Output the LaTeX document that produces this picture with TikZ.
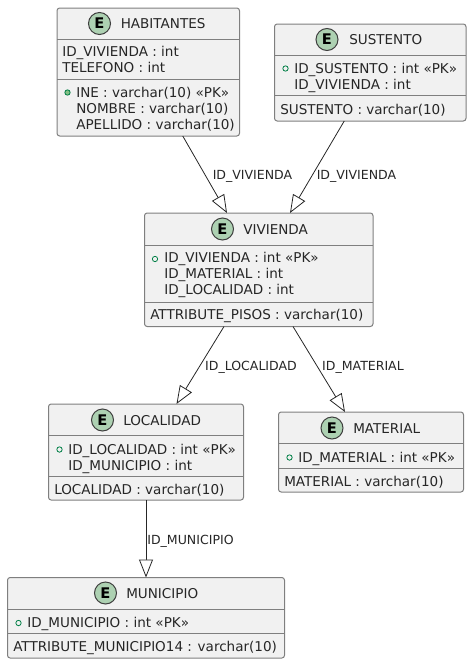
\documentclass[tikz,border=0pt]{standalone}
\usepackage{fontspec}
\setmainfont{DejaVu Sans}
\usetikzlibrary{arrows.meta,calc}
\definecolor{boxfill}{HTML}{F1F1F1}
\definecolor{boxline}{HTML}{7F7F7F}
\definecolor{iconfill}{HTML}{ADD1B2}
\definecolor{iconline}{HTML}{3F3F3F}
\definecolor{dotline}{HTML}{038048}
\definecolor{dotfill}{HTML}{84BE84}
\tikzset{
    entitybox/.style={draw=boxline, fill=boxfill, line width=0.75pt, rounded corners=2pt, inner sep=0pt, outer sep=0pt},
    entityicon/.style={circle, draw=iconline, fill=iconfill, line width=0.75pt, minimum size=16.5pt, inner sep=0pt, font=\fontsize{11pt}{12pt}\selectfont\bfseries},
    entitytitle/.style={anchor=base west, inner sep=0pt, font=\fontsize{10.15pt}{12pt}\selectfont, text=black!85},
    rowtext/.style={anchor=base west, inner sep=0pt, font=\fontsize{10.15pt}{12pt}\selectfont, text=black!85},
    edgelabel/.style={inner sep=0pt, font=\fontsize{9.4pt}{10pt}\selectfont, text=black!85},
    pkdot/.style={circle, draw=dotline, fill=boxfill, line width=0.6pt, minimum size=4pt, inner sep=0pt},
    fklink/.style={draw=black!85, line width=0.6pt, -{Triangle[open,fill=white,length=13.5pt,width=10.5pt]}}
}
\begin{document}
\begin{tikzpicture}[x=0.75pt,y=-0.75pt]
    \useasboundingbox (0,0) rectangle (473,664);
    % boxes
    \foreach \name/\l/\t/\r/\b/\da/\db in {
        habitantes/57/8/239.5/136/39.5/79.5,
        sustento/274.5/24/466/121/55.5/95.5,
        vivienda/144.5/213/373/326.5/245.5/302.5,
        localidad/48.5/404/243.5/500/435.5/476,
        material/278.5/412/463.5/492/443.5/468,
        municipio/7.5/577.5/284.5/658/609.5/633.5}
    {
        \node [entitybox, minimum width={(\r-\l)*0.75pt}, minimum height={(\b-\t)*0.75pt}] (\name) at ({(\l+\r)/2},{(\t+\b)/2}) {};
        \draw [boxline, line width=0.75pt] (\name.west |- 0,\da) -- (\name.east |- 0,\da);
        \draw [boxline, line width=0.75pt] (\name.west |- 0,\db) -- (\name.east |- 0,\db);
    }
    % headers
    \foreach \name/\ix/\iy/\tx/\ty/\txt in {
        habitantes/99.5/23.5/120.5/28.5/HABITANTES,
        sustento/327/39.5/349/44.5/SUSTENTO,
        vivienda/222.5/229/243/234/VIVIENDA,
        localidad/102.5/420/123/425/LOCALIDAD,
        material/332/428/353/433/MATERIAL,
        municipio/105.5/593/126/598/MUNICIPIO}
    {
        \node [entityicon] (\name-icon) at (\ix,\iy) {E};
        \node [entitytitle] (\name-title) at (\tx,\ty) {\txt};
    }
    % rows
    \foreach \name/\x/\y/\txt in {
        hab1/62/56.5/ID\_VIVIENDA : int,
        hab2/62/72.5/TELEFONO : int,
        hab3/76/97/INE : varchar(10) «PK»,
        hab4/76/113/NOMBRE : varchar(10),
        hab5/76/129/APELLIDO : varchar(10),
        sus1/294/73/ID\_SUSTENTO : int «PK»,
        sus2/294/89/ID\_VIVIENDA : int,
        sus3/280/114/SUSTENTO : varchar(10),
        viv1/164/262.5/ID\_VIVIENDA : int «PK»,
        viv2/164/278.5/ID\_MATERIAL : int,
        viv3/164/294.5/ID\_LOCALIDAD : int,
        viv4/150/319.5/ATTRIBUTE\_PISOS : varchar(10),
        loc1/68/454/ID\_LOCALIDAD : int «PK»,
        loc2/68/470/ID\_MUNICIPIO : int,
        loc3/54/494/LOCALIDAD : varchar(10),
        mat1/298/462/ID\_MATERIAL : int «PK»,
        mat2/284/486/MATERIAL : varchar(10),
        mun1/27/627/ID\_MUNICIPIO : int «PK»,
        mun2/13/651/ATTRIBUTE\_MUNICIPIO14 : varchar(10)}
    {
        \node [rowtext] (\name) at (\x,\y) {\txt};
    }
    % primary key marks
    \foreach \name/\x/\y in {sus1/285.5/68.5, viv1/155/259, loc1/59.5/449.5, mat1/289.5/457.5, mun1/18.5/623}
    {
        \node [pkdot] (\name-dot) at (\x,\y) {};
    }
    \node [pkdot, fill=dotfill] (hab3-dot) at (67.5,92.5) {};
    % links
    \draw [fklink] ($(habitantes.south)+(34.5,0)$) -- ($(vivienda.north)+(-31.75,0)$);
    \draw [fklink] ($(sustento.south)+(-26,0)$) -- ($(vivienda.north)+(31.25,0)$);
    \draw [fklink] ($(vivienda.south)+(-34.75,0)$) -- ($(localidad.north)+(30.5,0)$);
    \draw [fklink] ($(vivienda.south)+(34.25,0)$) -- ($(material.north)+(-26,0)$);
    \draw [fklink] (localidad.south) -- (localidad.south |- municipio.north);
    % link labels
    \node [edgelabel] (lab-hab) at (252.5,176.5) {ID\_VIVIENDA};
    \node [edgelabel] (lab-sus) at (356.5,176.5) {ID\_VIVIENDA};
    \node [edgelabel] (lab-loc) at (251,367) {ID\_LOCALIDAD};
    \node [edgelabel] (lab-mat) at (363,367) {ID\_MATERIAL};
    \node [edgelabel] (lab-mun) at (190.5,541) {ID\_MUNICIPIO};
\end{tikzpicture}
\end{document}
